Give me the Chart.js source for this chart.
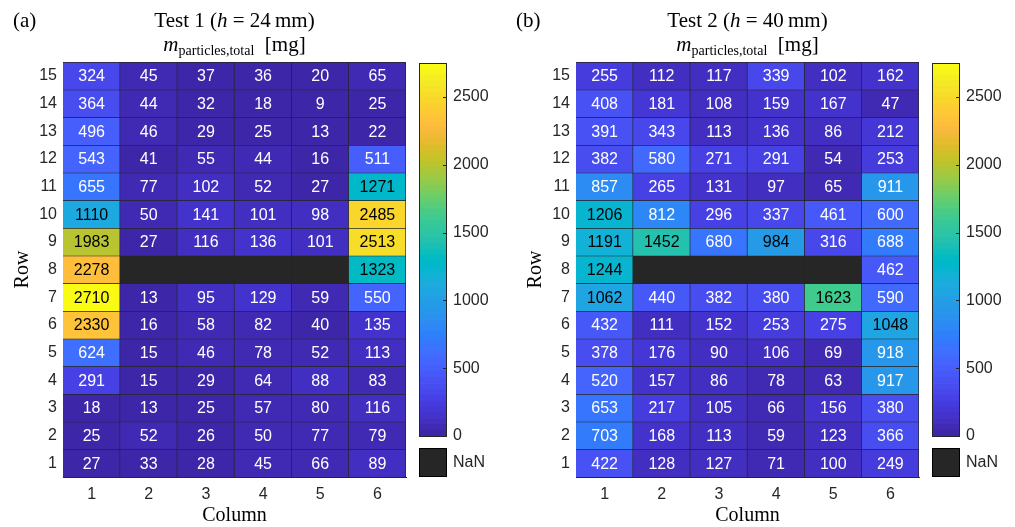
<!DOCTYPE html>
<html>
<head>
<meta charset="utf-8">
<script src="https://cdn.jsdelivr.net/npm/chart.js@4.4.0/dist/chart.umd.min.js"></script>
<style>
  html, body { margin: 0; padding: 0; background: #fff; overflow: hidden; }
  #fig { position: relative; width: 1015px; height: 527px; }
  canvas { position: absolute; top: 0; }
</style>
</head>
<body>
<div id="fig">
  <canvas id="heatA" width="412" height="527" style="left:0px"></canvas>
  <canvas id="barA" width="92" height="527" style="left:410px"></canvas>
  <canvas id="heatB" width="412" height="527" style="left:513px"></canvas>
  <canvas id="barB" width="92" height="527" style="left:923px"></canvas>
</div>
<script>
// data, rows listed top to bottom as in the figure
const columns = ['1', '2', '3', '4', '5', '6'];
const rows = [15, 14, 13, 12, 11, 10, 9, 8, 7, 6, 5, 4, 3, 2, 1];

const test1 = [
    [324, 45, 37, 36, 20, 65],
    [364, 44, 32, 18, 9, 25],
    [496, 46, 29, 25, 13, 22],
    [543, 41, 55, 44, 16, 511],
    [655, 77, 102, 52, 27, 1271],
    [1110, 50, 141, 101, 98, 2485],
    [1983, 27, 116, 136, 101, 2513],
    [2278, null, null, null, null, 1323],
    [2710, 13, 95, 129, 59, 550],
    [2330, 16, 58, 82, 40, 135],
    [624, 15, 46, 78, 52, 113],
    [291, 15, 29, 64, 88, 83],
    [18, 13, 25, 57, 80, 116],
    [25, 52, 26, 50, 77, 79],
    [27, 33, 28, 45, 66, 89]
];

const test2 = [
    [255, 112, 117, 339, 102, 162],
    [408, 181, 108, 159, 167, 47],
    [391, 343, 113, 136, 86, 212],
    [382, 580, 271, 291, 54, 253],
    [857, 265, 131, 97, 65, 911],
    [1206, 812, 296, 337, 461, 600],
    [1191, 1452, 680, 984, 316, 688],
    [1244, null, null, null, null, 462],
    [1062, 440, 382, 380, 1623, 590],
    [432, 111, 152, 253, 275, 1048],
    [378, 176, 90, 106, 69, 918],
    [520, 157, 86, 78, 63, 917],
    [653, 217, 105, 66, 156, 380],
    [703, 168, 113, 59, 123, 366],
    [422, 128, 127, 71, 100, 249]
];

const colorTicks = [0, 500, 1000, 1500, 2000, 2500];
const colorMin = 0;
const colorMax = 2750;

// parula, 64 levels
const parula = [
    [0.2422, 0.1504, 0.6603], [0.2504, 0.1650, 0.7076], [0.2578, 0.1818, 0.7511], [0.2647, 0.1978, 0.7952],
    [0.2706, 0.2147, 0.8364], [0.2751, 0.2342, 0.8710], [0.2783, 0.2559, 0.8991], [0.2803, 0.2782, 0.9221],
    [0.2813, 0.3006, 0.9414], [0.2810, 0.3228, 0.9579], [0.2795, 0.3447, 0.9717], [0.2760, 0.3667, 0.9829],
    [0.2699, 0.3892, 0.9906], [0.2602, 0.4123, 0.9952], [0.2440, 0.4358, 0.9988], [0.2206, 0.4603, 0.9973],
    [0.1963, 0.4847, 0.9892], [0.1834, 0.5074, 0.9798], [0.1786, 0.5289, 0.9682], [0.1764, 0.5499, 0.9520],
    [0.1687, 0.5703, 0.9359], [0.1540, 0.5902, 0.9218], [0.1460, 0.6091, 0.9079], [0.1380, 0.6276, 0.8973],
    [0.1248, 0.6459, 0.8883], [0.1113, 0.6635, 0.8763], [0.0952, 0.6798, 0.8598], [0.0689, 0.6948, 0.8394],
    [0.0297, 0.7082, 0.8163], [0.0036, 0.7203, 0.7917], [0.0067, 0.7312, 0.7660], [0.0433, 0.7411, 0.7394],
    [0.0964, 0.7500, 0.7120], [0.1408, 0.7584, 0.6842], [0.1717, 0.7670, 0.6554], [0.1938, 0.7758, 0.6251],
    [0.2161, 0.7843, 0.5923], [0.2470, 0.7918, 0.5567], [0.2906, 0.7973, 0.5188], [0.3406, 0.8008, 0.4789],
    [0.3909, 0.8029, 0.4354], [0.4456, 0.8024, 0.3909], [0.5044, 0.7993, 0.3480], [0.5616, 0.7942, 0.3045],
    [0.6174, 0.7876, 0.2612], [0.6720, 0.7793, 0.2227], [0.7242, 0.7698, 0.1910], [0.7738, 0.7598, 0.1646],
    [0.8203, 0.7498, 0.1535], [0.8634, 0.7406, 0.1596], [0.9035, 0.7330, 0.1774], [0.9393, 0.7288, 0.2100],
    [0.9728, 0.7298, 0.2394], [0.9956, 0.7434, 0.2371], [0.9970, 0.7659, 0.2199], [0.9952, 0.7893, 0.2028],
    [0.9892, 0.8136, 0.1885], [0.9786, 0.8386, 0.1766], [0.9676, 0.8639, 0.1643], [0.9610, 0.8890, 0.1537],
    [0.9597, 0.9135, 0.1423], [0.9628, 0.9373, 0.1265], [0.9691, 0.9606, 0.1064], [0.9769, 0.9839, 0.0805]
];

const nanColor = '#262626';
const gridColor = '#262626';
const textColor = '#262626';
const sansFont = '"Liberation Sans", Arial, sans-serif';
const serifFont = '"Liberation Serif", "Times New Roman", serif';

Chart.defaults.font.family = sansFont;
Chart.defaults.color = textColor;

const cellColor = (v) => {
    let k = Math.floor((v - colorMin) / (colorMax - colorMin) * parula.length);
    k = Math.max(0, Math.min(parula.length - 1, k));
    return parula[k];
};
const toCss = c => `rgb(${Math.round(c[0] * 255)}, ${Math.round(c[1] * 255)}, ${Math.round(c[2] * 255)})`;

// draws a line of text made of runs with different fonts, centred on cx
const drawRuns = (ctx, runs, cx, baseline) => {
    let total = 0;
    runs.forEach(r => { ctx.font = r.font; r.w = ctx.measureText(r.text).width; total += r.w; });
    let x = cx - total / 2;
    runs.forEach(r => {
        ctx.font = r.font;
        ctx.fillText(r.text, x, baseline + (r.dy || 0));
        x += r.w;
    });
};

const makeHeatmap = (canvasId, values, letter, letterX, testName, height) => {
    // dark backing so cell seams read as grid lines
    const backing = {
        id: 'backing',
        beforeDatasetsDraw(chart) {
            const a = chart.chartArea;
            chart.ctx.save();
            chart.ctx.fillStyle = gridColor;
            chart.ctx.fillRect(a.left, a.top, a.right - a.left, a.bottom - a.top);
            chart.ctx.restore();
        }
    };

    const cellText = {
        id: 'cellText',
        afterDatasetsDraw(chart) {
            const ctx = chart.ctx;
            ctx.save();
            ctx.font = '16px ' + sansFont;
            ctx.textAlign = 'center';
            ctx.textBaseline = 'middle';
            chart.data.datasets.forEach((ds, i) => {
                chart.getDatasetMeta(i).data.forEach((bar, j) => {
                    const v = ds.values[j];
                    if (v === null) return;
                    const c = cellColor(v);
                    const lum = 0.299 * c[0] + 0.587 * c[1] + 0.114 * c[2];
                    ctx.fillStyle = lum > 0.5 ? '#000000' : '#ffffff';
                    ctx.fillText(String(v), bar.x, (bar.y + bar.base) / 2 + 1);
                });
            });
            ctx.restore();
        }
    };

    const titles = {
        id: 'titles',
        afterDraw(chart) {
            const ctx = chart.ctx;
            const cx = (chart.chartArea.left + chart.chartArea.right) / 2;
            ctx.save();
            ctx.fillStyle = '#000000';
            ctx.textAlign = 'left';
            ctx.textBaseline = 'alphabetic';
            ctx.font = '21px ' + serifFont;
            ctx.fillText(letter, letterX, 27);
            drawRuns(ctx, [
                { text: testName + ' (', font: '21px ' + serifFont },
                { text: 'h', font: 'italic 21px ' + serifFont },
                { text: ' = ' + height + '\u2009mm)', font: '21px ' + serifFont }
            ], cx, 27);
            drawRuns(ctx, [
                { text: 'm', font: 'italic 21px ' + serifFont },
                { text: 'particles,total', font: '14px ' + serifFont, dy: 4 },
                { text: '  [mg]', font: '21px ' + serifFont }
            ], cx, 51);
            ctx.restore();
        }
    };

    return new Chart(document.getElementById(canvasId), {
        type: 'bar',
        data: {
            labels: columns,
            datasets: rows.map((r, i) => ({
                data: values[i].map(() => [r - 0.5, r + 0.5]),
                values: values[i],
                backgroundColor: values[i].map(v => v === null ? nanColor : toCss(cellColor(v))),
                borderColor: gridColor,
                borderWidth: { top: 1, right: 1, bottom: 0, left: 0 },
                borderSkipped: false,
                grouped: false,
                barPercentage: 1,
                categoryPercentage: 1
            }))
        },
        options: {
            responsive: false,
            animation: false,
            events: [],
            layout: { padding: { left: 0, top: 62, right: 6, bottom: 0 } },
            plugins: {
                legend: { display: false },
                tooltip: { enabled: false }
            },
            scales: {
                x: {
                    grid: { display: false, drawTicks: false },
                    border: { display: true, color: gridColor, width: 1 },
                    ticks: { padding: 8, autoSkip: false, maxRotation: 0, color: textColor, font: { size: 16 } },
                    title: {
                        display: true, text: 'Column', color: '#000000',
                        font: { family: serifFont, size: 20 }, padding: { top: 0, bottom: -1 }
                    },
                    afterFit: s => { s.height = 50; }
                },
                y: {
                    min: 0.5,
                    max: 15.5,
                    grid: { display: false, drawTicks: false },
                    border: { display: true, color: gridColor, width: 1 },
                    ticks: { padding: 6, color: textColor, font: { size: 16 } },
                    afterBuildTicks: s => { s.ticks = rows.map(v => ({ value: v })); },
                    title: {
                        display: true, text: 'Row', color: '#000000',
                        font: { family: serifFont, size: 20 }, padding: { top: 11, bottom: 0 }
                    },
                    afterFit: s => { s.width = 63; }
                }
            }
        },
        plugins: [backing, cellText, titles]
    });
};

const makeColorbar = (canvasId) => {
    const n = parula.length;
    const step = (colorMax - colorMin) / n;

    const frame = {
        id: 'frame',
        afterDraw(chart) {
            const ctx = chart.ctx;
            const a = chart.chartArea;
            const y = chart.scales.y;
            ctx.save();
            ctx.strokeStyle = gridColor;
            ctx.lineWidth = 1;
            ctx.beginPath();
            colorTicks.forEach(t => {
                const py = Math.round(y.getPixelForValue(t)) + 0.5;
                ctx.moveTo(a.right - 4, py);
                ctx.lineTo(a.right, py);
            });
            ctx.stroke();
            ctx.strokeRect(Math.round(a.left) + 0.5, Math.round(a.top) + 0.5,
                Math.round(a.right - a.left) - 1, Math.round(a.bottom - a.top));
            // NaN swatch
            const boxTop = Math.round(a.bottom) + 12;
            ctx.fillStyle = nanColor;
            ctx.fillRect(Math.round(a.left), boxTop, Math.round(a.right - a.left), 29);
            ctx.strokeStyle = '#000000';
            ctx.strokeRect(Math.round(a.left) + 0.5, boxTop + 0.5, Math.round(a.right - a.left) - 1, 28);
            ctx.fillStyle = textColor;
            ctx.font = '16px ' + sansFont;
            ctx.textAlign = 'left';
            ctx.textBaseline = 'middle';
            ctx.fillText('NaN', a.right + 6, boxTop + 15);
            ctx.restore();
        }
    };

    return new Chart(document.getElementById(canvasId), {
        type: 'bar',
        data: {
            labels: [''],
            datasets: parula.map((c, k) => ({
                data: [[colorMin + k * step, colorMin + (k + 1) * step]],
                backgroundColor: toCss(c),
                borderWidth: 0,
                grouped: false,
                barPercentage: 1,
                categoryPercentage: 1
            }))
        },
        options: {
            responsive: false,
            animation: false,
            events: [],
            layout: { padding: { left: 9, top: 63, right: 0, bottom: 91 } },
            plugins: {
                legend: { display: false },
                tooltip: { enabled: false }
            },
            scales: {
                x: { display: false },
                y: {
                    position: 'right',
                    min: colorMin,
                    max: colorMax,
                    grid: { display: false, drawTicks: false },
                    border: { display: false },
                    ticks: { padding: 6, color: textColor, font: { size: 16 }, callback: v => String(v) },
                    afterBuildTicks: s => { s.ticks = colorTicks.map(v => ({ value: v })); },
                    afterFit: s => { s.width = 55; }
                }
            }
        },
        plugins: [frame]
    });
};

makeHeatmap('heatA', test1, '(a)', 13, 'Test 1', 24);
makeColorbar('barA');
makeHeatmap('heatB', test2, '(b)', 3, 'Test 2', 40);
makeColorbar('barB');
</script>
</body>
</html>
